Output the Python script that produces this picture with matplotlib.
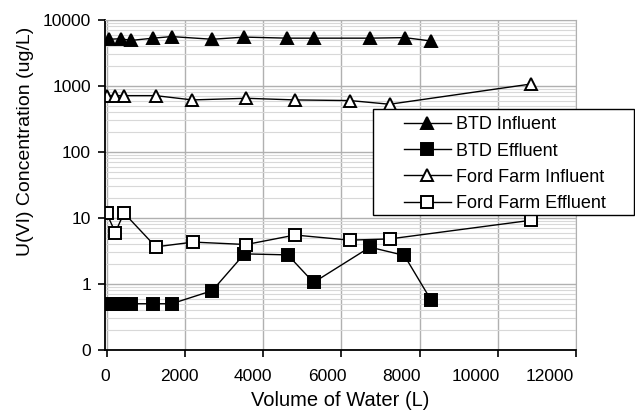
import matplotlib
matplotlib.use("Agg")
import matplotlib.pyplot as plt
from matplotlib.patches import Rectangle
from matplotlib.ticker import FixedLocator, LogLocator, NullFormatter

plt.rcParams["font.family"] = ["Liberation Sans", "DejaVu Sans"]

# BTD site
btd_in_vol = [70, 360, 620, 1190, 1660, 2700, 3520, 4610, 5290, 6730, 7620, 8300]
btd_in_conc = [5100, 5200, 4900, 5300, 5600, 5100, 5500, 5300, 5300, 5300, 5400, 4800]
btd_ef_vol = [70, 250, 360, 620, 1190, 1660, 2700, 3520, 4630, 5290, 6730, 7610, 8300]
btd_ef_conc = [0.5, 0.5, 0.5, 0.5, 0.5, 0.5, 0.79, 2.85, 2.75, 1.05, 3.6, 2.7, 0.56]

# Ford Farm site
ff_in_vol = [0, 210, 450, 1250, 2190, 3570, 4815, 6225, 7235, 10850]
ff_in_conc = [713, 713, 713, 713, 614, 650, 614, 600, 528, 1070]
ff_ef_vol = [0, 220, 440, 1255, 2210, 3567, 4815, 6217, 7236, 10850]
ff_ef_conc = [11.7, 6.0, 11.9, 3.64, 4.3, 3.95, 5.5, 4.6, 4.8, 9.2]

x_ticks = [0, 2000, 4000, 6000, 8000, 10000, 12000]
y_ticks = [0.1, 1, 10, 100, 1000, 10000]
y_labels = ["0", "1", "10", "100", "1000", "10000"]

fig = plt.figure(figsize=(6.35, 4.16), dpi=100)
ax = fig.add_axes([0.165, 0.159, 0.742, 0.793])

style = dict(color="black", lw=1.0, markersize=9, markeredgewidth=1.4)
ax.plot(btd_in_vol, btd_in_conc, marker="^", mfc="black", label="BTD Influent", **style)
ax.plot(btd_ef_vol, btd_ef_conc, marker="s", mfc="black", label="BTD Effluent", **style)
ax.plot(ff_in_vol, ff_in_conc, marker="^", mfc="white", label="Ford Farm Influent", **style)
ax.plot(ff_ef_vol, ff_ef_conc, marker="s", mfc="white", label="Ford Farm Effluent", **style)

ax.set_yscale("log")
ax.set_ylim(0.1, 10000)
ax.set_xlim(0, 12000)
ax.yaxis.set_major_locator(FixedLocator(y_ticks))
ax.set_yticklabels(y_labels)
ax.yaxis.set_minor_locator(LogLocator(base=10, subs=range(2, 10)))
ax.yaxis.set_minor_formatter(NullFormatter())

# x tick labels in the original sit on a slightly tighter spacing than the ticks
ax.set_xticks(x_ticks)
ax.set_xticklabels([])
ax.set_xticks([v * 0.948 - 50 for v in x_ticks], minor=True)
ax.set_xticklabels([str(v) for v in x_ticks], minor=True)

ax.grid(True, which="major", color="#b0b0b0", lw=1.0)
ax.grid(True, which="minor", axis="y", color="#d8d8d8", lw=0.8)
ax.set_axisbelow(True)

for s in ("top", "right"):
    ax.spines[s].set_color("#b0b0b0")
ax.spines["left"].set_linewidth(1.3)
ax.spines["bottom"].set_linewidth(1.3)
ax.tick_params(which="major", length=5, width=1.2, labelsize=12.5, direction="out")
ax.tick_params(axis="y", which="major", pad=5)
ax.tick_params(axis="x", which="minor", length=0, labelsize=12.5, pad=14)
ax.tick_params(axis="y", which="minor", length=0)

ax.set_xlabel("Volume of Water (L)", fontsize=14.5, labelpad=5)
ax.set_ylabel("U(VI) Concentration (ug/L)", fontsize=14)
ax.yaxis.set_label_coords(-0.15, 0.633)

# legend box is wider than its entries in the original
box = Rectangle((0.587, 0.482), 0.411, 0.256, transform=fig.transFigure,
                facecolor="white", edgecolor="black", lw=1.0, zorder=5, clip_on=False)
ax.add_patch(box)
leg = ax.legend(loc="upper left", bbox_to_anchor=(0.622, 0.742),
                bbox_transform=fig.transFigure, fontsize=13, frameon=False,
                handlelength=2.6, borderpad=0, labelspacing=0.51, handletextpad=0.28)
leg.set_zorder(6)

fig.savefig("out.png", dpi=100)
